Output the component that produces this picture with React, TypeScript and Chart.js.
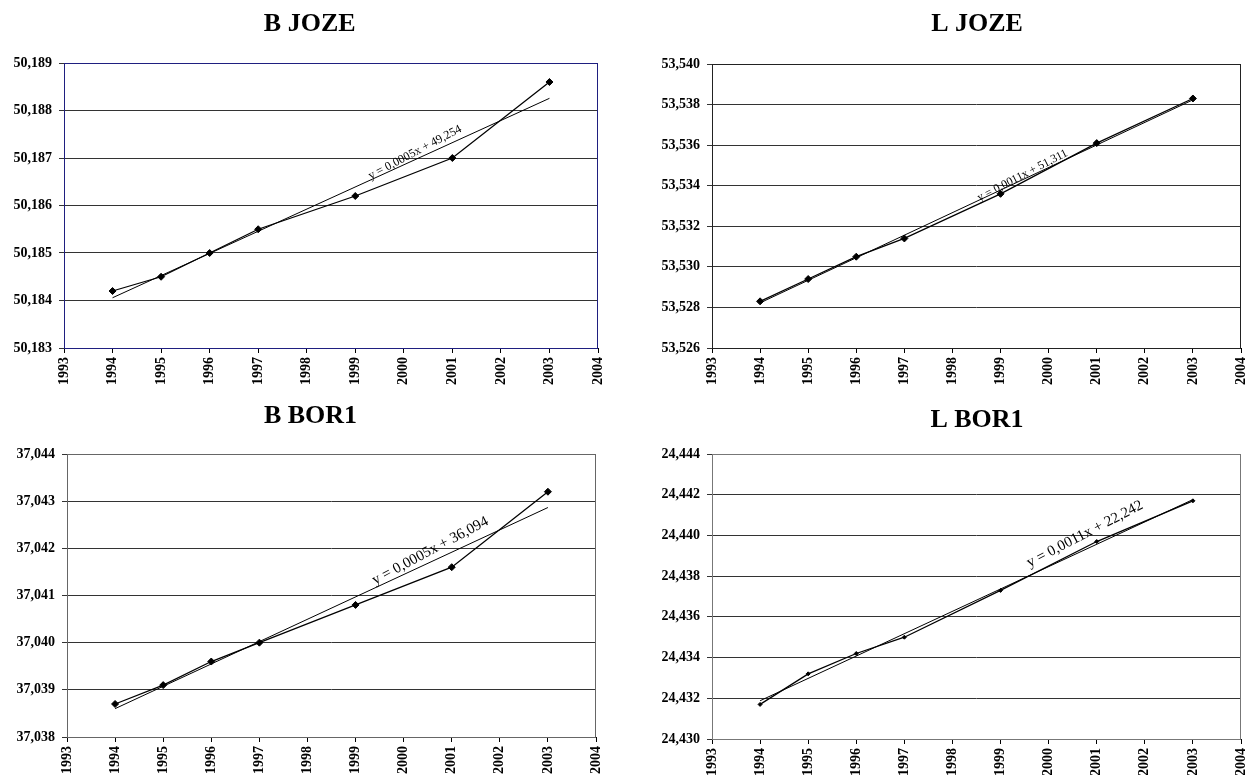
import React, { useEffect, useRef } from 'react';
import { Chart, registerables } from 'chart.js';

Chart.register(...registerables);

// ---------- data ----------
const years = [1994, 1995, 1996, 1997, 1999, 2001, 2003];
const bJoze = [50.1842, 50.1845, 50.185, 50.1855, 50.1862, 50.187, 50.1886];
const lJoze = [53.5283, 53.5294, 53.5305, 53.5314, 53.5336, 53.5361, 53.5383];
const bBor1 = [37.0387, 37.0391, 37.0396, 37.04, 37.0408, 37.0416, 37.0432];
const lBor1 = [24.4317, 24.4332, 24.4342, 24.435, 24.4373, 24.4397, 24.4417];
const seriesList = [bJoze, lJoze, bBor1, lBor1];
const titles = ['B JOZE', 'L JOZE', 'B BOR1', 'L BOR1'];
const equations = [
  'y = 0,0005x + 49,254',
  'y = 0,0011x + 51,311',
  'y = 0,0005x + 36,094',
  'y = 0,0011x + 22,242',
];
const yMins = [50.183, 53.526, 37.038, 24.43];
const yMaxs = [50.189, 53.54, 37.044, 24.444];
const ySteps = [0.001, 0.002, 0.001, 0.002];
const xMin = 1993;
const xMax = 2004;

// ---------- layout / style ----------
type Layout = {
  left: number; top: number; width: number; height: number;
  yW: number; padR: number; xH: number; plotTop: number;
  titleX: number; titleY: number; border: string; pointR: number;
  eqYear: number; eqOffset: number; eqAngle: number; eqSize: number;
};

const layouts: Layout[] = [
  { left: 0, top: 0, width: 620, height: 390, yW: 64, padR: 22, xH: 42, plotTop: 63,
    titleX: 309.7, titleY: 23.8, border: '#1f1f80', pointR: 3.5,
    eqYear: 2000.23, eqOffset: -7.2, eqAngle: -27.8, eqSize: 12 },
  { left: 620, top: 0, width: 627, height: 390, yW: 92, padR: 6, xH: 42, plotTop: 64,
    titleX: 357, titleY: 24, border: '#222', pointR: 3.5,
    eqYear: 1999.455, eqOffset: -4.3, eqAngle: -27.4, eqSize: 11.7 },
  { left: 0, top: 390, width: 620, height: 385, yW: 67, padR: 24, xH: 38, plotTop: 64,
    titleX: 310.5, titleY: 26.7, border: '#666', pointR: 3.5,
    eqYear: 2000.555, eqOffset: -11.3, eqAngle: -28, eqSize: 15 },
  { left: 620, top: 390, width: 627, height: 385, yW: 92, padR: 6, xH: 36, plotTop: 64,
    titleX: 357, titleY: 30, border: '#777', pointR: 2,
    eqYear: 2000.754, eqOffset: -15.7, eqAngle: -27.5, eqSize: 15 },
];

const FONT = "'Liberation Serif', 'Times New Roman', serif";

function regression(xs: number[], ys: number[]) {
  const n = xs.length;
  const mx = xs.reduce((a, b) => a + b, 0) / n;
  const my = ys.reduce((a, b) => a + b, 0) / n;
  let sxy = 0, sxx = 0;
  for (let i = 0; i < n; i++) {
    sxy += (xs[i] - mx) * (ys[i] - my);
    sxx += (xs[i] - mx) * (xs[i] - mx);
  }
  const b = sxy / sxx;
  const a = my - b * mx;
  return { a, b };
}

function MiniChart({ idx }: { idx: number }) {
  const ref = useRef<HTMLCanvasElement | null>(null);
  const L = layouts[idx];

  useEffect(() => {
    if (!ref.current) return;
    const values = seriesList[idx];
    const { a, b } = regression(years, values);
    const x0 = years[0];
    const x1 = years[years.length - 1];

    const decor = {
      id: 'decor' + idx,
      beforeDatasetsDraw(chart: any) {
        const { ctx, chartArea } = chart;
        ctx.save();
        ctx.strokeStyle = L.border;
        ctx.lineWidth = 1;
        ctx.strokeRect(
          Math.round(chartArea.left) + 0.5,
          Math.round(chartArea.top) + 0.5,
          Math.round(chartArea.right - chartArea.left) - 1,
          Math.round(chartArea.bottom - chartArea.top)
        );
        ctx.restore();
      },
      afterDatasetsDraw(chart: any) {
        const { ctx } = chart;
        const xs = chart.scales.x;
        const ys = chart.scales.y;
        // trend equation
        const px = xs.getPixelForValue(L.eqYear);
        const py = ys.getPixelForValue(a + b * L.eqYear) + L.eqOffset;
        ctx.save();
        ctx.translate(px, py);
        ctx.rotate((L.eqAngle * Math.PI) / 180);
        ctx.fillStyle = '#000';
        ctx.font = `${L.eqSize}px ${FONT}`;
        ctx.textAlign = 'center';
        ctx.textBaseline = 'middle';
        ctx.fillText(equations[idx], 0, 0);
        ctx.restore();
        // title
        ctx.save();
        ctx.fillStyle = '#000';
        ctx.font = `bold 26px ${FONT}`;
        ctx.textAlign = 'center';
        ctx.textBaseline = 'middle';
        ctx.fillText(titles[idx], L.titleX, L.titleY);
        ctx.restore();
      },
    };

    const chart = new Chart(ref.current, {
      type: 'line',
      data: {
        datasets: [
          {
            label: titles[idx],
            data: years.map((x, i) => ({ x, y: values[i] })),
            borderColor: '#000',
            backgroundColor: '#000',
            borderWidth: 1.3,
            pointStyle: 'rectRot',
            pointRadius: L.pointR,
            pointBackgroundColor: '#000',
            pointBorderColor: '#000',
            pointBorderWidth: 1,
            tension: 0,
            fill: false,
          },
          {
            label: 'trend',
            data: [
              { x: x0, y: a + b * x0 },
              { x: x1, y: a + b * x1 },
            ],
            borderColor: '#000',
            borderWidth: 1,
            pointRadius: 0,
            fill: false,
          },
        ],
      },
      options: {
        responsive: false,
        animation: false,
        events: [],
        layout: { padding: { top: L.plotTop, right: L.padR, left: 0, bottom: 0 } },
        plugins: {
          legend: { display: false },
          title: { display: false },
          tooltip: { enabled: false },
        },
        scales: {
          x: {
            type: 'linear',
            min: xMin,
            max: xMax,
            afterFit: (s: any) => {
              s.height = L.xH;
              s.paddingLeft = 0;
              s.paddingRight = 0;
            },
            ticks: {
              stepSize: 1,
              autoSkip: false,
              minRotation: 90,
              maxRotation: 90,
              padding: 4,
              color: '#000',
              font: { family: FONT, size: 14, weight: 'bold' },
              callback: (v: any) => String(v),
            },
            grid: {
              drawOnChartArea: false,
              drawTicks: true,
              tickLength: 5,
              color: '#000',
            },
            border: { display: false },
          },
          y: {
            type: 'linear',
            min: yMins[idx],
            max: yMaxs[idx],
            afterFit: (s: any) => {
              s.width = L.yW;
              s.paddingTop = 0;
              s.paddingBottom = 0;
            },
            ticks: {
              stepSize: ySteps[idx],
              padding: 7,
              color: '#000',
              font: { family: FONT, size: 14, weight: 'bold' },
              callback: (v: any) => Number(v).toFixed(3).replace('.', ','),
            },
            grid: {
              color: '#333',
              lineWidth: 1,
              tickLength: 5,
            },
            border: { display: false },
          },
        },
      } as any,
      plugins: [decor],
    });
    return () => chart.destroy();
  }, [idx]);

  return (
    <div style={{ position: 'absolute', left: L.left, top: L.top, width: L.width, height: L.height }}>
      <canvas ref={ref} width={L.width} height={L.height} style={{ display: 'block' }} />
    </div>
  );
}

export default function App() {
  return (
    <div style={{ position: 'absolute', left: 0, top: 0, width: 1247, height: 775, background: '#fff', overflow: 'hidden' }}>
      {layouts.map((_, i) => (
        <MiniChart key={i} idx={i} />
      ))}
    </div>
  );
}
